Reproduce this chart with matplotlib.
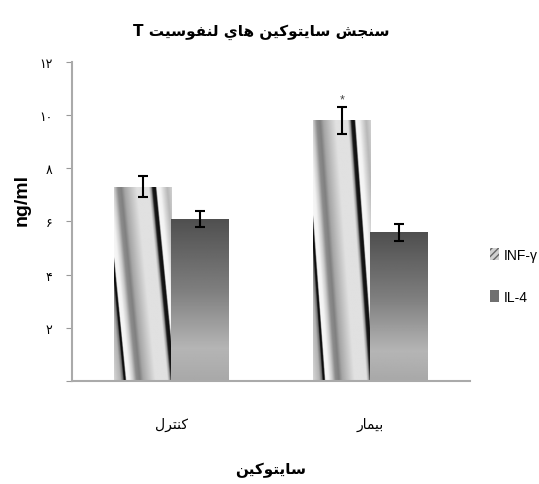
import numpy as np
import matplotlib
matplotlib.use('Agg')
import matplotlib.pyplot as plt
from matplotlib.patches import Patch

plt.rcParams['font.family'] = ['Liberation Sans', 'DejaVu Sans']

# data
groups = ['كنترل', 'بيمار']
series = ['INF-γ', 'IL-4']
inf_gamma = [7.3, 9.8]
inf_gamma_err = [0.4, 0.52]
il4 = [6.1, 5.6]
il4_err = [0.3, 0.32]
yticks = [0, 2, 4, 6, 8, 10, 12]
title = 'سنجش سايتوكين هاي لنفوسيت T'
xlabel = 'سايتوكين'
ylabel = 'ng/ml'

# contextual glyph forms: isolated, final, initial, medial
FORMS = {
    'ا': (0xFE8D, 0xFE8E, None, None),
    'ب': (0xFE8F, 0xFE90, 0xFE91, 0xFE92),
    'ت': (0xFE95, 0xFE96, 0xFE97, 0xFE98),
    'ج': (0xFE9D, 0xFE9E, 0xFE9F, 0xFEA0),
    'ر': (0xFEAD, 0xFEAE, None, None),
    'س': (0xFEB1, 0xFEB2, 0xFEB3, 0xFEB4),
    'ش': (0xFEB5, 0xFEB6, 0xFEB7, 0xFEB8),
    'ف': (0xFED1, 0xFED2, 0xFED3, 0xFED4),
    'ك': (0xFED9, 0xFEDA, 0xFEDB, 0xFEDC),
    'ل': (0xFEDD, 0xFEDE, 0xFEDF, 0xFEE0),
    'م': (0xFEE1, 0xFEE2, 0xFEE3, 0xFEE4),
    'ن': (0xFEE5, 0xFEE6, 0xFEE7, 0xFEE8),
    'ه': (0xFEE9, 0xFEEA, 0xFEEB, 0xFEEC),
    'و': (0xFEED, 0xFEEE, None, None),
    'ي': (0xFEF1, 0xFEF2, 0xFEF3, 0xFEF4),
}


def rtl(text):
    out = []
    for i, ch in enumerate(text):
        if ch not in FORMS:
            out.append(ch)
            continue
        iso, fin, ini, med = FORMS[ch]
        prev = text[i - 1] if i > 0 else ''
        nxt = text[i + 1] if i + 1 < len(text) else ''
        jp = prev in FORMS and FORMS[prev][2] is not None
        jn = ini is not None and nxt in FORMS
        if jp and jn:
            c = med
        elif jp:
            c = fin
        elif jn:
            c = ini
        else:
            c = iso
        out.append(chr(c))
    return ''.join(reversed(out))


def fa_digits(n):
    return str(n).translate(str.maketrans('0123456789', '۰۱۲۳۴۵۶۷۸۹'))


def striped_fill(ny=240, nx=120):
    # slanted "ribbon" shading used for the INF bars
    u = np.linspace(0, 1, nx)[None, :]
    v = np.linspace(0, 1, ny)[:, None]
    w = u - 0.33 * v
    ku = [-0.34, -0.22, -0.17, -0.16, -0.13, -0.12, -0.06, 0.0, 0.06, 0.12, 0.18,
          0.27, 0.39, 0.60, 0.64, 0.665, 0.72, 0.735, 0.8, 0.85, 0.92, 1.0]
    kv = [0.85, 0.7, 0.4, 0.05, 0.05, 0.97, 0.95, 0.8, 0.55, 0.5, 0.65,
          0.75, 0.88, 0.88, 0.6, 0.1, 0.05, 0.97, 0.95, 0.85, 0.72, 0.82]
    return np.interp(w, ku, kv)


def vertical_fill(ny=200):
    v = np.linspace(0, 1, ny)
    g = np.interp(v, [0, 0.45, 0.8, 1.0], [0.31, 0.5, 0.71, 0.66])
    return np.repeat(g[:, None], 4, axis=1)


fig = plt.figure(figsize=(5.39, 4.85), dpi=100)
ax = fig.add_axes([0.1336, 0.2124, 0.738, 0.658])

x = np.arange(len(groups))
w = 0.287
b1 = ax.bar(x - w / 2, inf_gamma, w, color='none', linewidth=0)
b2 = ax.bar(x + w / 2, il4, w, color='none', linewidth=0)

for bars, fill in [(b1, striped_fill()), (b2, vertical_fill())]:
    for p in bars:
        x0, h = p.get_x(), p.get_height()
        im = ax.imshow(fill, cmap='gray', vmin=0, vmax=1, aspect='auto',
                       extent=(x0, x0 + p.get_width(), 0, h), origin='upper',
                       interpolation='bilinear', zorder=1)
        im.set_clip_path(p)

ax.errorbar(x - w / 2, inf_gamma, yerr=inf_gamma_err, fmt='none', ecolor='black',
            elinewidth=1.5, capsize=3.5, capthick=1.5, zorder=3)
ax.errorbar(x + w / 2, il4, yerr=il4_err, fmt='none', ecolor='black',
            elinewidth=1.5, capsize=3.5, capthick=1.5, zorder=3)

# significance mark on the patient group
ax.text(x[1] - w / 2, inf_gamma[1] + inf_gamma_err[1] + 0.05, '*',
        ha='center', va='bottom', fontsize=9, color='#444444')

ax.set_xlim(-0.5, 1.5)
ax.set_ylim(0, 12)
ax.set_yticks(yticks)
ax.set_yticklabels(['' if t == 0 else fa_digits(t) for t in yticks],
                   family=['DejaVu Sans'], fontsize=9)
ax.set_xticks(x)
ax.set_xticklabels([rtl(g) for g in groups], family=['DejaVu Sans'], fontsize=10)
ax.tick_params(axis='x', length=0, pad=26)
ax.tick_params(axis='y', length=4, color='#999999', pad=10)
for s in ['top', 'right']:
    ax.spines[s].set_visible(False)
for s in ['left', 'bottom']:
    ax.spines[s].set_color('#aaaaaa')
    ax.spines[s].set_linewidth(1.5)

ax.set_ylabel(ylabel, fontsize=14, fontweight='bold')
ax.yaxis.set_label_coords(-0.105, 0.57)
ax.set_xlabel(rtl(xlabel), family=['DejaVu Sans'], fontsize=11, fontweight='bold',
              labelpad=22)
fig.text(0.485, 0.935, rtl(title), ha='center', va='center', family=['DejaVu Sans'],
         fontsize=11, fontweight='bold')

handles = [Patch(facecolor='#d0d0d0', edgecolor='#666666', hatch='/////', linewidth=0),
           Patch(facecolor='#707070', linewidth=0)]
ax.legend(handles, series, loc='center left', bbox_to_anchor=(1.05, 0.33),
          frameon=False, fontsize=10, handlelength=0.7, handleheight=0.9,
          handletextpad=0.3, labelspacing=2.0, borderpad=0, borderaxespad=0)

fig.savefig('out.png', dpi=100)
